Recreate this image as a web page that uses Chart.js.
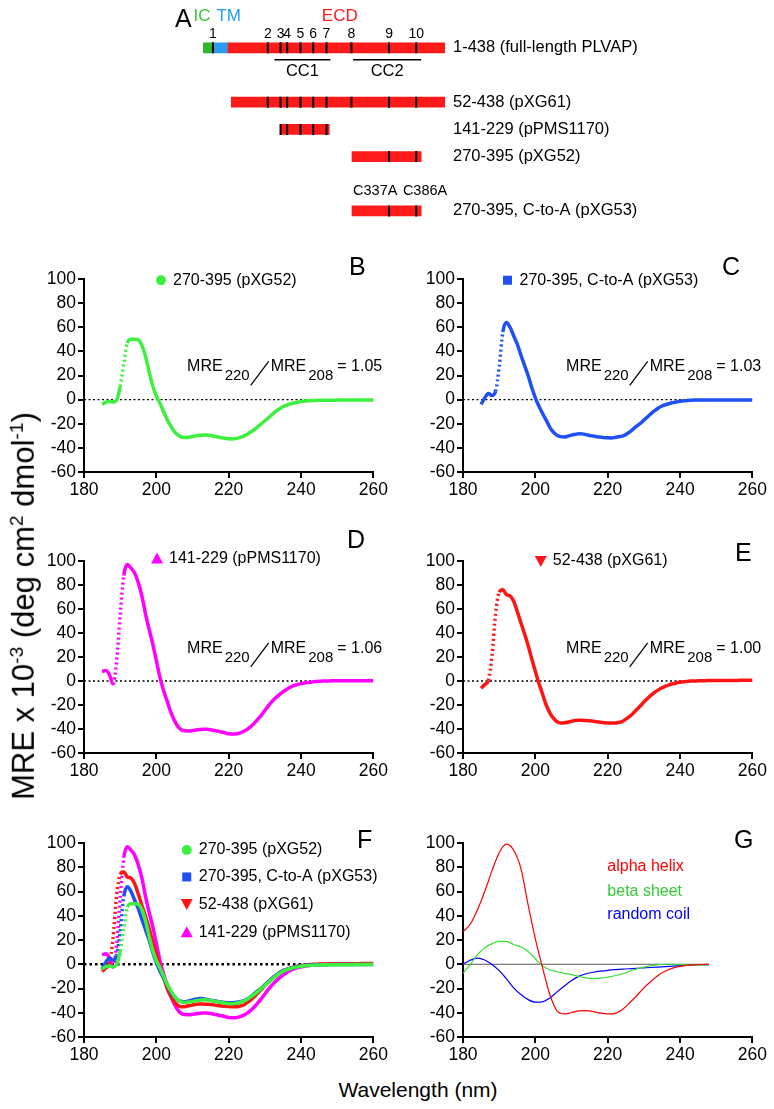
<!DOCTYPE html>
<html>
<head>
<meta charset="utf-8">
<script src="https://cdn.jsdelivr.net/npm/chart.js@4/dist/chart.umd.min.js"></script>
<style>
  body { margin: 0; background: #fff; }
  #fig { position: relative; width: 774px; height: 1109px; overflow: hidden; font-family: "Liberation Sans", Arial, Helvetica, sans-serif; color: #000; }
  #fig canvas { position: absolute; }
  .tag { position: absolute; font-size: 25px; line-height: 1; }
  #xtitle { position: absolute; left: 418px; top: 1090px; transform: translate(-50%, -50%); font-size: 21px; white-space: nowrap; }
  #ytitle { position: absolute; left: 24px; top: 606px; transform: translate(-50%, -50%) rotate(-90deg); font-size: 31px; white-space: nowrap; }
  #ytitle sup { font-size: 0.62em; }
</style>
</head>
<body>
<div id="fig">
  <canvas id="chartA" width="774" height="232" style="left:0;top:0"></canvas>
  <canvas id="chartB" width="360" height="255" style="left:30px;top:250px"></canvas>
  <canvas id="chartC" width="360" height="255" style="left:409px;top:250px"></canvas>
  <canvas id="chartD" width="360" height="254" style="left:30px;top:532px"></canvas>
  <canvas id="chartE" width="360" height="254" style="left:409px;top:532px"></canvas>
  <canvas id="chartF" width="360" height="256" style="left:30px;top:814px"></canvas>
  <canvas id="chartG" width="360" height="256" style="left:409px;top:814px"></canvas>

  <div class="tag" style="left:175px;top:6px">A</div>
  <div class="tag" style="left:349px;top:254px">B</div>
  <div class="tag" style="left:722px;top:254px">C</div>
  <div class="tag" style="left:347px;top:527px">D</div>
  <div class="tag" style="left:735px;top:540px">E</div>
  <div class="tag" style="left:357px;top:827px">F</div>
  <div class="tag" style="left:734px;top:827px">G</div>

  <div id="ytitle">MRE x 10<sup>-3</sup> (deg cm<sup>2</sup> dmol<sup>-1</sup>)</div>
  <div id="xtitle">Wavelength (nm)</div>
</div>

<script>
const FONT = '"Liberation Sans", Arial, Helvetica, sans-serif';
Chart.defaults.font.family = FONT;
Chart.defaults.color = '#000';

// ---- panel A: PLVAP constructs (residue numbers) ----
const fullLengthName = '1-438 (full-length PLVAP)';
const domainNames = ['IC', 'TM', 'ECD'];
const domainStart = [1, 18, 45];
const domainEnd = [18, 45, 438];
const constructNames = ['52-438 (pXG61)', '141-229 (pPMS1170)', '270-395 (pXG52)', '270-395, C-to-A (pXG53)'];
const constructStart = [52, 141, 270, 270];
const constructEnd = [438, 229, 395, 395];
const cysteines = [19, 118, 141, 153, 177, 200, 224, 269, 337, 386];
const coiledCoils = ['CC1', 'CC2'];
const ccStart = [130, 272];
const ccEnd = [231, 395];
const mutations = ['C337A', 'C386A'];

// ---- CD spectra, MRE x 10^-3, read at 1 nm steps ----
const wavelengths = [];
for (let w = 185; w <= 260; w++) wavelengths.push(w);

const mrePXG52 = [
  -4, -2, -1.5, -2, -0.5, 11, 30, 47, 50, 50,
  49.5, 45, 36, 23, 11.5, 3, -3, -10, -16.6, -22,
  -26.5, -29.5, -31, -31.5, -31.2, -30.6, -30, -29.6, -29.3, -29.4,
  -29.8, -30.4, -31, -31.6, -32.1, -32.5, -32.6, -32.2, -31.5, -30.5,
  -29, -27, -25, -22.6, -20, -17.5, -15, -12.3, -9.8, -7.7,
  -5.9, -4.6, -3.5, -2.8, -2.2, -1.6, -1.2, -1, -0.8, -0.7,
  -0.6, -0.5, -0.5, -0.5, -0.5, -0.4, -0.4, -0.4, -0.4, -0.4,
  -0.3, -0.3, -0.3, -0.3, -0.3, -0.3
];
const mrePXG53 = [
  -4, 1.4, 5, 3.5, 7, 27, 56, 64, 60, 53,
  46, 37, 28.5, 20, 10, 1.5, -5.5, -11.5, -17, -23,
  -27, -29.5, -30.7, -31, -30.3, -29.4, -28.8, -28.3, -28.4, -29,
  -29.7, -30.2, -30.7, -31.1, -31.5, -31.7, -31.8, -31.4, -30.8, -30.2,
  -29, -27, -24.5, -22, -19.8, -17, -14.3, -11.6, -9.2, -7,
  -5.3, -4.2, -3.2, -2.5, -1.9, -1.4, -1, -0.7, -0.5, -0.4,
  -0.4, -0.4, -0.4, -0.3, -0.3, -0.3, -0.3, -0.3, -0.3, -0.3,
  -0.3, -0.3, -0.3, -0.3, -0.3, -0.3
];
const mrePPMS1170 = [
  7.8, 8.7, 5.5, -2.5, 16, 55, 88, 97, 94, 90,
  82, 71, 56, 43, 31, 17, 3, -8, -17, -26,
  -33, -38, -40.8, -41.5, -41.6, -41.3, -40.8, -40.5, -40.3, -40.3,
  -40.6, -41.2, -41.8, -42.5, -43.2, -44, -44.2, -44.1, -43.4, -42.2,
  -40.5, -38.2, -35.5, -32, -28.6, -24.5, -20.5, -17, -14, -11.3,
  -9, -7, -5.2, -3.8, -2.9, -2.2, -1.6, -1.2, -0.8, -0.5,
  -0.3, 0, 0.1, 0.1, 0.2, 0.2, 0.2, 0.2, 0.2, 0.2,
  0.2, 0.2, 0.2, 0.2, 0.2, 0.2
];
const mrePXG61 = [
  -6, -3, 0.5, 21, 56, 74, 76, 72, 71, 66.5,
  58, 48.5, 39.5, 29.5, 18.5, 8, -2, -11, -20, -26.5,
  -31, -34, -35, -34.8, -34.3, -33.6, -33, -32.8, -32.8, -33,
  -33.2, -33.5, -34, -34.4, -34.7, -34.9, -35, -35, -34.6, -33.8,
  -31.8, -29.7, -27, -23.8, -20.8, -17.5, -14.6, -11.8, -9.4, -7.4,
  -5.6, -4.3, -3.2, -2.3, -1.6, -1.1, -0.7, -0.4, -0.1, 0,
  0.2, 0.3, 0.3, 0.4, 0.4, 0.4, 0.5, 0.5, 0.5, 0.5,
  0.5, 0.5, 0.6, 0.6, 0.6, 0.6
];
const ratioPXG52 = '1.05';
const ratioPXG53 = '1.03';
const ratioPPMS1170 = '1.06';
const ratioPXG61 = '1.00';

// ---- reference spectra (panel G), 2 nm steps ----
const refWavelengths = [];
for (let w = 180; w <= 248; w += 2) refWavelengths.push(w);
const alphaHelix = [
  26.8, 33, 45, 60, 77, 92, 99, 94, 79, 49,
  21, -3, -25, -38.5, -41, -39.8, -38.5, -38.3, -39, -40.3,
  -41, -40.5, -37.5, -32, -26, -19.5, -14, -9, -5.5, -3.2,
  -1.8, -1, -0.5, -0.2, 0
];
const betaSheet = [
  -7.5, -0.3, 8, 13.5, 17, 18.8, 18.8, 16.3, 14.5, 10.5,
  4.5, -1.5, -4.5, -6.2, -7.5, -8.5, -10, -11.3, -11.9, -11.5,
  -10.6, -9.5, -8, -5.8, -3.9, -2.4, -1.2, -0.4, 0, -0.1,
  -0.3, -0.4, -0.5, -0.5, -0.5
];
const randomCoil = [
  0, 3.3, 5, 3.5, -0.2, -5.2, -12, -19.5, -25, -29.2,
  -31.3, -31, -27.8, -22.8, -18, -13.5, -10, -7.8, -6.6, -5.7,
  -5, -4.5, -4.1, -3.7, -3.3, -3, -2.7, -2.3, -1.9, -1.6,
  -1.2, -0.9, -0.6, -0.4, -0.3
];

const xTicks = [180, 200, 220, 240, 260];
const yTicks = [-60, -40, -20, 0, 20, 40, 60, 80, 100];

// ---- colours ----
const GREEN = '#3df03d';
const BLUE = '#1f4ff5';
const MAGENTA = '#ff00ff';
const RED = '#ff1414';

// ================= panel A =================
const rows = [fullLengthName, ' ', constructNames[0], constructNames[1], constructNames[2], '  ', constructNames[3]];
const rowRange = {};
rowRange[fullLengthName] = [domainStart[0], domainEnd[2]];
constructNames.forEach((n, i) => { rowRange[n] = [constructStart[i], constructEnd[i]]; });

const cysMarks = [];
rows.forEach(r => {
  const rg = rowRange[r];
  if (!rg) return;
  cysteines.filter(c => c >= rg[0] && c <= rg[1]).forEach(c => cysMarks.push({x: c, y: r}));
});

const domainColors = ['#2fb52f', '#2b9bf0', '#ff1a1a'];
const domainTextColors = ['#33c633', '#1e9ff2', '#ff1a1a'];

const panelAText = {
  id: 'panelAText',
  afterDraw(chart) {
    const {ctx, scales: {x, y}} = chart;
    const rowY = name => y.getPixelForValue(rows.indexOf(name));
    const fullY = rowY(fullLengthName);
    ctx.save();
    ctx.fillStyle = '#000';
    ctx.strokeStyle = '#000';

    // domain names
    ctx.font = '17px ' + FONT;
    ctx.textBaseline = 'middle';
    ctx.fillStyle = domainTextColors[0];
    ctx.textAlign = 'right';
    ctx.fillText(domainNames[0], x.getPixelForValue(domainEnd[0]) - 2, fullY - 32);
    ctx.fillStyle = domainTextColors[1];
    ctx.textAlign = 'left';
    ctx.fillText(domainNames[1], x.getPixelForValue(domainStart[1]) + 4, fullY - 32);
    ctx.fillStyle = domainTextColors[2];
    ctx.textAlign = 'center';
    ctx.fillText(domainNames[2], x.getPixelForValue(248), fullY - 32);

    // cysteine numbers
    ctx.fillStyle = '#000';
    ctx.font = '14px ' + FONT;
    ctx.textBaseline = 'bottom';
    cysteines.forEach((c, i) => ctx.fillText(String(i + 1), x.getPixelForValue(c), fullY - 7));

    // coiled coils
    ctx.lineWidth = 1.5;
    ctx.font = '16.5px ' + FONT;
    ctx.textBaseline = 'middle';
    coiledCoils.forEach((n, i) => {
      const a = x.getPixelForValue(ccStart[i]), b = x.getPixelForValue(ccEnd[i]);
      ctx.beginPath();
      ctx.moveTo(a, fullY + 12);
      ctx.lineTo(b, fullY + 12);
      ctx.stroke();
      ctx.fillText(n, (a + b) / 2, fullY + 24);
    });

    // mutation labels above the C-to-A construct
    const mutY = rowY(constructNames[3]);
    ctx.font = '14.5px ' + FONT;
    const mutLabelAt = [312, 402];
    mutations.forEach((m, i) => ctx.fillText(m, x.getPixelForValue(mutLabelAt[i]), mutY - 20));
    ctx.restore();
  }
};

new Chart(document.getElementById('chartA'), {
  type: 'bar',
  data: {
    labels: rows,
    datasets: [
      {
        label: domainNames[0],
        data: rows.map((r, i) => i === 0 ? [domainStart[0], domainEnd[0]] : null),
        backgroundColor: domainColors[0], barThickness: 10, grouped: false, borderSkipped: false
      },
      {
        label: domainNames[1],
        data: rows.map((r, i) => i === 0 ? [domainStart[1], domainEnd[1]] : null),
        backgroundColor: domainColors[1], barThickness: 10, grouped: false, borderSkipped: false
      },
      {
        label: domainNames[2],
        data: rows.map(r => {
          if (r === fullLengthName) return [domainStart[2], domainEnd[2]];
          const k = constructNames.indexOf(r);
          return k >= 0 ? [constructStart[k], constructEnd[k]] : null;
        }),
        backgroundColor: domainColors[2], barThickness: 10, grouped: false, borderSkipped: false
      },
      {
        type: 'scatter',
        label: 'Cys',
        data: cysMarks,
        pointStyle: 'line', rotation: 90, radius: 5.5,
        borderColor: '#000', borderWidth: 2, order: -1
      }
    ]
  },
  options: {
    indexAxis: 'y',
    responsive: false,
    animation: false,
    events: [],
    layout: { padding: { left: 203, top: 34.25, bottom: 5.25, right: 0 } },
    scales: {
      x: { type: 'linear', min: 1, max: 438, display: false },
      y: {
        position: 'right',
        grid: { display: false, drawTicks: false },
        border: { display: false },
        ticks: { font: { size: 16.5 }, color: '#000', padding: 8, autoSkip: false },
        afterFit(s) { s.width = 329; s.paddingTop = 0; s.paddingBottom = 0; }
      }
    },
    plugins: { legend: { display: false }, tooltip: { enabled: false } }
  },
  plugins: [panelAText]
});

// ================= spectra panels =================
function drawMarker(ctx, style, color, x, y) {
  ctx.fillStyle = color;
  ctx.beginPath();
  if (style === 'circle') {
    ctx.arc(x, y, 5, 0, Math.PI * 2);
  } else if (style === 'square') {
    ctx.rect(x - 4.5, y - 4.5, 9, 9);
  } else if (style === 'triangle') {
    ctx.moveTo(x, y - 6); ctx.lineTo(x + 6, y + 5); ctx.lineTo(x - 6, y + 5); ctx.closePath();
  } else if (style === 'triangleDown') {
    ctx.moveTo(x, y + 6); ctx.lineTo(x + 6, y - 5); ctx.lineTo(x - 6, y - 5); ctx.closePath();
  }
  ctx.fill();
}

function drawRatio(ctx, x0, base, value) {
  ctx.fillStyle = '#000';
  ctx.strokeStyle = '#000';
  ctx.textAlign = 'left';
  ctx.textBaseline = 'alphabetic';
  let cx = x0;
  const big = '16px ' + FONT, small = '15px ' + FONT;
  ctx.font = big; ctx.fillText('MRE', cx, base); cx += ctx.measureText('MRE').width + 2;
  ctx.font = small; ctx.fillText('220', cx, base + 9); cx += ctx.measureText('220').width + 1;
  ctx.lineWidth = 1.3;
  ctx.beginPath(); ctx.moveTo(cx, base + 14); ctx.lineTo(cx + 18, base - 10); ctx.stroke();
  cx += 20;
  ctx.font = big; ctx.fillText('MRE', cx, base); cx += ctx.measureText('MRE').width + 2;
  ctx.font = small; ctx.fillText('208', cx, base + 9); cx += ctx.measureText('208').width + 4;
  ctx.font = big; ctx.fillText('= ' + value, cx, base);
}

function makeTextPlugin(info) {
  return {
    id: 'panelText',
    afterDraw(chart) {
      const {ctx, scales: {x, y}} = chart;
      ctx.save();
      (info.legend || []).forEach(item => {
        const px = x.getPixelForValue(item.at[0]);
        const py = y.getPixelForValue(item.at[1]);
        ctx.font = '16px ' + FONT;
        ctx.textAlign = 'left';
        ctx.textBaseline = 'middle';
        if (item.marker) {
          drawMarker(ctx, item.marker, item.color, px, py);
          ctx.fillStyle = '#000';
          ctx.fillText(item.text, px + 12, py);
        } else {
          ctx.fillStyle = item.color;
          ctx.fillText(item.text, px, py);
        }
      });
      if (info.ratio) drawRatio(ctx, x.getPixelForValue(208.5), y.getPixelForValue(23.5), info.ratio);
      ctx.restore();
    }
  };
}

const steepDots = ctx => {
  const dx = ctx.p1.parsed.x - ctx.p0.parsed.x;
  return (ctx.p1.parsed.y - ctx.p0.parsed.y) / dx > 12 ? [2, 3] : undefined;
};

function series(label, xs, ys, color, width) {
  return {
    label,
    data: xs.map((w, i) => ({x: w, y: ys[i]})),
    borderColor: color,
    backgroundColor: color,
    borderWidth: width,
    pointRadius: 0,
    cubicInterpolationMode: 'monotone',
    segment: width > 2 ? { borderDash: steepDots } : undefined,
    order: 0
  };
}

function zeroLine(xMax, color, width, dash) {
  return {
    label: 'zero',
    data: [{x: 180, y: 0}, {x: xMax, y: 0}],
    borderColor: color,
    borderWidth: width,
    borderDash: dash,
    pointRadius: 0,
    order: 10
  };
}

function spectrumChart(id, datasets, info) {
  new Chart(document.getElementById(id), {
    type: 'line',
    data: { datasets },
    options: {
      responsive: false,
      animation: false,
      events: [],
      layout: { padding: { top: 29, right: 13, left: 0, bottom: 0 } },
      scales: {
        x: {
          type: 'linear', min: 180, max: 260,
          afterBuildTicks(s) { s.ticks = xTicks.map(v => ({value: v})); },
          afterFit(s) { s.height = 33; },
          grid: { drawOnChartArea: false, color: '#000', lineWidth: 2, tickLength: 6 },
          border: { color: '#000', width: 2 },
          ticks: { font: { size: 17.5 }, color: '#000', padding: 2, maxRotation: 0, autoSkip: false }
        },
        y: {
          type: 'linear', min: -60, max: 100,
          afterBuildTicks(s) { s.ticks = yTicks.map(v => ({value: v})); },
          afterFit(s) { s.width = 54; },
          grid: { drawOnChartArea: false, color: '#000', lineWidth: 2, tickLength: 6 },
          border: { color: '#000', width: 2 },
          ticks: { font: { size: 17.5 }, color: '#000', padding: 2, autoSkip: false }
        }
      },
      plugins: { legend: { display: false }, tooltip: { enabled: false } }
    },
    plugins: [makeTextPlugin(info)]
  });
}

const nameB = '270-395 (pXG52)';
const nameC = '270-395, C-to-A (pXG53)';
const nameD = '141-229 (pPMS1170)';
const nameE = '52-438 (pXG61)';

spectrumChart('chartB',
  [series(nameB, wavelengths, mrePXG52, GREEN, 3.5), zeroLine(260, '#000', 1.3, [2, 2.5])],
  { legend: [{marker: 'circle', color: GREEN, text: nameB, at: [201.3, 99]}], ratio: ratioPXG52 });

spectrumChart('chartC',
  [series(nameC, wavelengths, mrePXG53, BLUE, 3.5), zeroLine(260, '#000', 1.3, [2, 2.5])],
  { legend: [{marker: 'square', color: BLUE, text: nameC, at: [192.3, 99]}], ratio: ratioPXG53 });

spectrumChart('chartD',
  [series(nameD, wavelengths, mrePPMS1170, MAGENTA, 3.5), zeroLine(260, '#000', 1.3, [2, 2.5])],
  { legend: [{marker: 'triangle', color: MAGENTA, text: nameD, at: [200.2, 102]}], ratio: ratioPPMS1170 });

spectrumChart('chartE',
  [series(nameE, wavelengths, mrePXG61, RED, 3.5), zeroLine(260, '#000', 1.3, [2, 2.5])],
  { legend: [{marker: 'triangleDown', color: RED, text: nameE, at: [201.5, 100]}], ratio: ratioPXG61 });

spectrumChart('chartF',
  [
    series(nameB, wavelengths, mrePXG52, GREEN, 3.5),
    series(nameC, wavelengths, mrePXG53, BLUE, 3.5),
    series(nameE, wavelengths, mrePXG61, RED, 3.5),
    series(nameD, wavelengths, mrePPMS1170, MAGENTA, 3.5),
    zeroLine(260, '#000', 2.5, [2.5, 3])
  ],
  { legend: [
      {marker: 'circle', color: GREEN, text: nameB, at: [208.4, 94.2]},
      {marker: 'square', color: BLUE, text: nameC, at: [208.4, 72]},
      {marker: 'triangleDown', color: RED, text: nameE, at: [208.4, 49.6]},
      {marker: 'triangle', color: MAGENTA, text: nameD, at: [208.4, 26.4]}
  ] });

spectrumChart('chartG',
  [
    series('alpha helix', refWavelengths, alphaHelix, '#ff0000', 1.2),
    series('beta sheet', refWavelengths, betaSheet, '#33dd33', 1.2),
    series('random coil', refWavelengths, randomCoil, '#0000ff', 1.2),
    zeroLine(248, '#555', 1, [])
  ],
  { legend: [
      {color: '#ff0000', text: 'alpha helix', at: [219.9, 80.2]},
      {color: '#33cc33', text: 'beta sheet', at: [219.9, 60.3]},
      {color: '#0000ff', text: 'random coil', at: [219.9, 41.3]}
  ] });
</script>
</body>
</html>
